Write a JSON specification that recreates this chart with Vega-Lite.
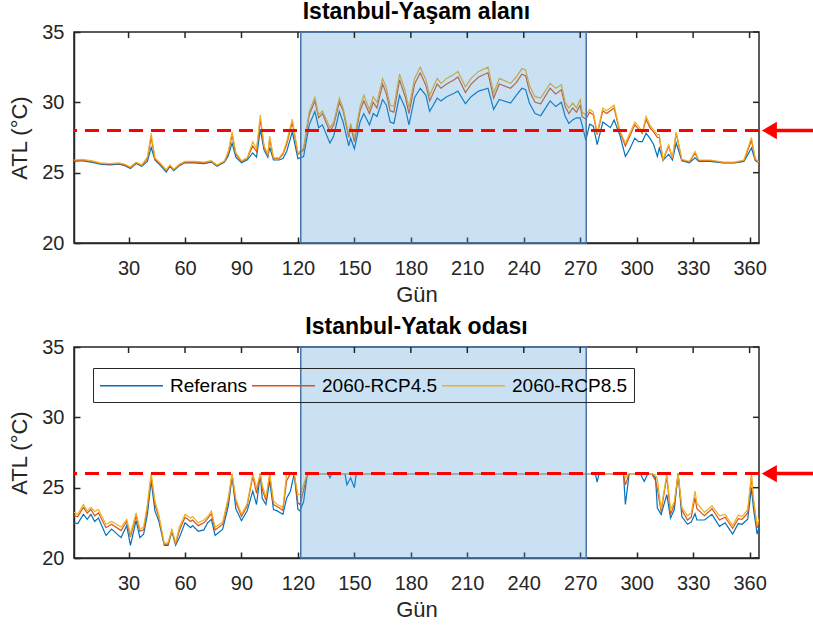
{
  "$schema": "https://vega.github.io/schema/vega-lite/v6.json",
  "padding": {"left": 8, "top": 0, "right": 0, "bottom": 0},
  "bounds": "flush",
  "spacing": 104,
  "background": "white",
  "config": {
    "font": "Liberation Sans",
    "view": {"stroke": "#262626", "strokeWidth": 1.5},
    "axis": {
      "grid": false,
      "domainColor": "#262626",
      "domainWidth": 1.5,
      "tickColor": "#262626",
      "tickWidth": 1.5,
      "tickSize": -6,
      "labelColor": "#262626",
      "labelFontSize": 20,
      "titleColor": "#262626",
      "titleFontSize": 22,
      "titleFontWeight": "normal"
    },
    "title": {"fontSize": 23, "fontWeight": "bold", "color": "#000000", "anchor": "middle"}
  },
  "resolve": {"legend": {"color": "independent"}},
  "datasets": {
    "one": [{"k": 1}],
    "tx": [{"t":30},{"t":60},{"t":90},{"t":120},{"t":150},{"t":180},{"t":210},{"t":240},{"t":270},{"t":300},{"t":330},{"t":360}],
    "ty": [{"t":20},{"t":25},{"t":30},{"t":35}],
    "top": [
      {"d":1,"ref":25.8,"rcp45":25.85,"rcp85":25.9},
      {"d":5,"ref":25.85,"rcp45":25.9,"rcp85":25.95},
      {"d":10,"ref":25.75,"rcp45":25.8,"rcp85":25.85},
      {"d":15,"ref":25.6,"rcp45":25.65,"rcp85":25.7},
      {"d":20,"ref":25.55,"rcp45":25.6,"rcp85":25.65},
      {"d":25,"ref":25.6,"rcp45":25.65,"rcp85":25.7},
      {"d":28,"ref":25.5,"rcp45":25.55,"rcp85":25.6},
      {"d":31,"ref":25.3,"rcp45":25.35,"rcp85":25.4},
      {"d":34,"ref":25.65,"rcp45":25.7,"rcp85":25.75},
      {"d":37,"ref":25.45,"rcp45":25.5,"rcp85":25.55},
      {"d":40,"ref":25.8,"rcp45":26.0,"rcp85":26.1},
      {"d":42,"ref":26.8,"rcp45":27.5,"rcp85":27.8},
      {"d":44,"ref":25.9,"rcp45":26.0,"rcp85":26.05},
      {"d":47,"ref":25.5,"rcp45":25.6,"rcp85":25.65},
      {"d":50,"ref":25.05,"rcp45":25.15,"rcp85":25.2},
      {"d":52,"ref":25.45,"rcp45":25.5,"rcp85":25.55},
      {"d":54,"ref":25.15,"rcp45":25.2,"rcp85":25.25},
      {"d":57,"ref":25.5,"rcp45":25.55,"rcp85":25.6},
      {"d":60,"ref":25.7,"rcp45":25.75,"rcp85":25.8},
      {"d":65,"ref":25.7,"rcp45":25.75,"rcp85":25.8},
      {"d":70,"ref":25.65,"rcp45":25.7,"rcp85":25.75},
      {"d":74,"ref":25.75,"rcp45":25.8,"rcp85":25.85},
      {"d":77,"ref":25.45,"rcp45":25.5,"rcp85":25.55},
      {"d":81,"ref":25.75,"rcp45":25.8,"rcp85":25.85},
      {"d":83,"ref":26.2,"rcp45":26.4,"rcp85":26.5},
      {"d":85,"ref":27.1,"rcp45":27.7,"rcp85":27.9},
      {"d":87,"ref":26.1,"rcp45":26.3,"rcp85":26.4},
      {"d":90,"ref":25.7,"rcp45":25.8,"rcp85":25.85},
      {"d":93,"ref":25.9,"rcp45":26.0,"rcp85":26.05},
      {"d":96,"ref":26.4,"rcp45":26.9,"rcp85":27.2},
      {"d":98,"ref":26.1,"rcp45":26.5,"rcp85":26.7},
      {"d":100,"ref":28.1,"rcp45":28.8,"rcp85":29.1},
      {"d":102,"ref":26.6,"rcp45":26.8,"rcp85":26.9},
      {"d":104,"ref":26.1,"rcp45":26.25,"rcp85":26.3},
      {"d":105,"ref":26.8,"rcp45":27.4,"rcp85":27.6},
      {"d":107,"ref":25.9,"rcp45":26.0,"rcp85":26.05},
      {"d":110,"ref":25.9,"rcp45":26.0,"rcp85":26.05},
      {"d":112,"ref":26.0,"rcp45":26.3,"rcp85":26.4},
      {"d":114,"ref":26.5,"rcp45":27.0,"rcp85":27.2},
      {"d":117,"ref":27.9,"rcp45":28.6,"rcp85":28.8},
      {"d":120,"ref":26.0,"rcp45":26.3,"rcp85":26.4},
      {"d":123,"ref":26.15,"rcp45":26.6,"rcp85":26.75},
      {"d":126,"ref":28.4,"rcp45":29.1,"rcp85":29.35},
      {"d":129,"ref":29.35,"rcp45":30.1,"rcp85":30.35},
      {"d":131,"ref":28.2,"rcp45":28.9,"rcp85":29.1},
      {"d":133,"ref":28.4,"rcp45":29.2,"rcp85":29.4},
      {"d":137,"ref":27.1,"rcp45":27.9,"rcp85":28.2},
      {"d":139,"ref":27.6,"rcp45":28.4,"rcp85":28.6},
      {"d":142,"ref":29.35,"rcp45":30.0,"rcp85":30.3},
      {"d":144,"ref":28.6,"rcp45":29.4,"rcp85":29.6},
      {"d":147,"ref":26.9,"rcp45":27.5,"rcp85":27.7},
      {"d":148,"ref":27.45,"rcp45":28.3,"rcp85":28.5},
      {"d":150,"ref":26.7,"rcp45":27.2,"rcp85":27.45},
      {"d":153,"ref":28.6,"rcp45":29.4,"rcp85":29.7},
      {"d":155,"ref":29.2,"rcp45":30.1,"rcp85":30.5},
      {"d":158,"ref":28.4,"rcp45":29.2,"rcp85":29.5},
      {"d":160,"ref":29.2,"rcp45":30.0,"rcp85":30.4},
      {"d":162,"ref":29.0,"rcp45":29.6,"rcp85":30.0},
      {"d":165,"ref":30.2,"rcp45":31.3,"rcp85":31.7},
      {"d":167,"ref":29.8,"rcp45":30.6,"rcp85":31.0},
      {"d":169,"ref":28.6,"rcp45":29.4,"rcp85":29.8},
      {"d":171,"ref":28.5,"rcp45":29.3,"rcp85":29.7},
      {"d":174,"ref":30.5,"rcp45":31.6,"rcp85":32.0},
      {"d":177,"ref":29.6,"rcp45":30.4,"rcp85":30.8},
      {"d":179,"ref":28.4,"rcp45":29.2,"rcp85":29.6},
      {"d":182,"ref":30.35,"rcp45":31.3,"rcp85":31.7},
      {"d":185,"ref":31.0,"rcp45":32.1,"rcp85":32.5},
      {"d":188,"ref":30.5,"rcp45":31.2,"rcp85":31.6},
      {"d":190,"ref":29.35,"rcp45":30.1,"rcp85":30.5},
      {"d":194,"ref":30.3,"rcp45":31.3,"rcp85":31.7},
      {"d":196,"ref":30.1,"rcp45":31.0,"rcp85":31.35},
      {"d":199,"ref":30.4,"rcp45":31.3,"rcp85":31.7},
      {"d":203,"ref":30.65,"rcp45":31.6,"rcp85":32.0},
      {"d":205,"ref":30.8,"rcp45":31.8,"rcp85":32.2},
      {"d":209,"ref":29.9,"rcp45":30.7,"rcp85":31.1},
      {"d":212,"ref":30.4,"rcp45":31.3,"rcp85":31.7},
      {"d":216,"ref":30.8,"rcp45":31.8,"rcp85":32.2},
      {"d":221,"ref":31.0,"rcp45":32.1,"rcp85":32.5},
      {"d":224,"ref":29.5,"rcp45":30.3,"rcp85":30.65},
      {"d":227,"ref":30.2,"rcp45":31.3,"rcp85":31.7},
      {"d":233,"ref":29.95,"rcp45":31.0,"rcp85":31.35},
      {"d":236,"ref":30.5,"rcp45":31.4,"rcp85":31.8},
      {"d":239,"ref":31.0,"rcp45":32.0,"rcp85":32.4},
      {"d":241,"ref":30.9,"rcp45":31.9,"rcp85":32.3},
      {"d":243,"ref":29.95,"rcp45":30.8,"rcp85":31.2},
      {"d":246,"ref":29.2,"rcp45":30.0,"rcp85":30.4},
      {"d":249,"ref":29.05,"rcp45":29.9,"rcp85":30.3},
      {"d":254,"ref":30.1,"rcp45":31.0,"rcp85":31.35},
      {"d":257,"ref":29.7,"rcp45":30.6,"rcp85":31.0},
      {"d":260,"ref":30.0,"rcp45":30.9,"rcp85":31.25},
      {"d":262,"ref":29.0,"rcp45":29.7,"rcp85":30.0},
      {"d":264,"ref":28.5,"rcp45":29.2,"rcp85":29.6},
      {"d":266,"ref":28.75,"rcp45":29.6,"rcp85":29.95},
      {"d":268,"ref":28.9,"rcp45":29.3,"rcp85":29.6},
      {"d":270,"ref":28.9,"rcp45":29.8,"rcp85":30.2},
      {"d":271,"ref":28.4,"rcp45":29.0,"rcp85":29.3},
      {"d":273,"ref":27.3,"rcp45":28.8,"rcp85":29.1},
      {"d":275,"ref":28.45,"rcp45":29.3,"rcp85":29.5},
      {"d":277,"ref":28.3,"rcp45":29.1,"rcp85":29.3},
      {"d":279,"ref":27.0,"rcp45":27.7,"rcp85":27.8},
      {"d":282,"ref":28.6,"rcp45":29.4,"rcp85":29.6},
      {"d":284,"ref":28.4,"rcp45":29.2,"rcp85":29.4},
      {"d":286,"ref":28.2,"rcp45":29.4,"rcp85":29.6},
      {"d":288,"ref":28.75,"rcp45":29.6,"rcp85":29.8},
      {"d":291,"ref":27.7,"rcp45":27.9,"rcp85":28.0},
      {"d":294,"ref":26.15,"rcp45":26.9,"rcp85":27.1},
      {"d":296,"ref":26.6,"rcp45":27.5,"rcp85":27.7},
      {"d":299,"ref":27.45,"rcp45":28.4,"rcp85":28.6},
      {"d":301,"ref":27.2,"rcp45":28.1,"rcp85":28.3},
      {"d":303,"ref":27.2,"rcp45":27.8,"rcp85":27.9},
      {"d":305,"ref":27.8,"rcp45":28.8,"rcp85":29.0},
      {"d":307,"ref":27.45,"rcp45":28.2,"rcp85":28.4},
      {"d":309,"ref":27.0,"rcp45":27.9,"rcp85":28.05},
      {"d":311,"ref":26.15,"rcp45":27.5,"rcp85":27.7},
      {"d":312,"ref":26.75,"rcp45":27.5,"rcp85":27.7},
      {"d":314,"ref":25.9,"rcp45":25.9,"rcp85":25.95},
      {"d":317,"ref":26.3,"rcp45":26.9,"rcp85":27.0},
      {"d":319,"ref":25.9,"rcp45":26.0,"rcp85":26.05},
      {"d":321,"ref":27.1,"rcp45":27.8,"rcp85":27.9},
      {"d":324,"ref":25.85,"rcp45":25.9,"rcp85":25.95},
      {"d":328,"ref":25.7,"rcp45":25.75,"rcp85":25.8},
      {"d":331,"ref":26.05,"rcp45":26.4,"rcp85":26.5},
      {"d":333,"ref":25.8,"rcp45":25.85,"rcp85":25.9},
      {"d":339,"ref":25.8,"rcp45":25.85,"rcp85":25.9},
      {"d":346,"ref":25.7,"rcp45":25.72,"rcp85":25.75},
      {"d":352,"ref":25.7,"rcp45":25.72,"rcp85":25.75},
      {"d":357,"ref":25.8,"rcp45":25.85,"rcp85":25.9},
      {"d":361,"ref":26.75,"rcp45":27.3,"rcp85":27.5},
      {"d":363,"ref":25.85,"rcp45":25.95,"rcp85":26.0},
      {"d":365,"ref":25.7,"rcp45":25.72,"rcp85":25.75}
    ],
    "bot": [
      {"d":1,"ref":22.5,"rcp45":23.0,"rcp85":23.25},
      {"d":3,"ref":22.45,"rcp45":22.95,"rcp85":23.1},
      {"d":6,"ref":23.1,"rcp45":23.6,"rcp85":23.8},
      {"d":8,"ref":22.75,"rcp45":23.2,"rcp85":23.35},
      {"d":10,"ref":23.1,"rcp45":23.45,"rcp85":23.6},
      {"d":12,"ref":22.6,"rcp45":23.0,"rcp85":23.3},
      {"d":14,"ref":22.85,"rcp45":23.2,"rcp85":23.45},
      {"d":18,"ref":21.6,"rcp45":22.15,"rcp85":22.4},
      {"d":21,"ref":22.05,"rcp45":22.4,"rcp85":22.6},
      {"d":26,"ref":21.45,"rcp45":21.95,"rcp85":22.2},
      {"d":29,"ref":22.3,"rcp45":22.6,"rcp85":22.75},
      {"d":31,"ref":20.9,"rcp45":21.5,"rcp85":21.7},
      {"d":34,"ref":22.65,"rcp45":23.0,"rcp85":23.2},
      {"d":36,"ref":21.45,"rcp45":21.9,"rcp85":22.05},
      {"d":38,"ref":21.7,"rcp45":22.0,"rcp85":22.2},
      {"d":40,"ref":23.1,"rcp45":23.6,"rcp85":23.8},
      {"d":42,"ref":25.5,"rcp45":25.85,"rcp85":26.0},
      {"d":44,"ref":23.35,"rcp45":23.8,"rcp85":24.05},
      {"d":46,"ref":22.65,"rcp45":22.95,"rcp85":23.1},
      {"d":49,"ref":20.9,"rcp45":20.95,"rcp85":21.0},
      {"d":51,"ref":20.9,"rcp45":21.0,"rcp85":21.1},
      {"d":53,"ref":21.9,"rcp45":21.95,"rcp85":22.0},
      {"d":55,"ref":20.9,"rcp45":21.0,"rcp85":21.1},
      {"d":57,"ref":21.45,"rcp45":21.95,"rcp85":22.2},
      {"d":60,"ref":22.5,"rcp45":22.9,"rcp85":23.1},
      {"d":63,"ref":22.15,"rcp45":22.6,"rcp85":22.85},
      {"d":64,"ref":22.3,"rcp45":22.7,"rcp85":22.95},
      {"d":67,"ref":21.9,"rcp45":22.3,"rcp85":22.5},
      {"d":70,"ref":22.0,"rcp45":22.5,"rcp85":22.7},
      {"d":72,"ref":22.5,"rcp45":22.8,"rcp85":22.95},
      {"d":74,"ref":22.75,"rcp45":23.15,"rcp85":23.35},
      {"d":76,"ref":21.6,"rcp45":22.0,"rcp85":22.2},
      {"d":80,"ref":22.05,"rcp45":22.4,"rcp85":22.55},
      {"d":83,"ref":23.7,"rcp45":24.1,"rcp85":24.3},
      {"d":85,"ref":25.8,"rcp45":25.95,"rcp85":26.0},
      {"d":87,"ref":23.5,"rcp45":24.0,"rcp85":24.2},
      {"d":90,"ref":22.65,"rcp45":22.95,"rcp85":23.1},
      {"d":93,"ref":23.35,"rcp45":23.7,"rcp85":23.85},
      {"d":96,"ref":24.75,"rcp45":25.8,"rcp85":26.0},
      {"d":98,"ref":23.8,"rcp45":24.6,"rcp85":25.0},
      {"d":100,"ref":26.0,"rcp45":26.0,"rcp85":26.0},
      {"d":101,"ref":24.25,"rcp45":24.9,"rcp85":25.2},
      {"d":103,"ref":23.8,"rcp45":24.1,"rcp85":24.3},
      {"d":105,"ref":25.5,"rcp45":25.9,"rcp85":26.0},
      {"d":107,"ref":23.45,"rcp45":23.8,"rcp85":24.05},
      {"d":109,"ref":23.35,"rcp45":23.65,"rcp85":23.8},
      {"d":112,"ref":23.1,"rcp45":23.4,"rcp85":23.6},
      {"d":114,"ref":24.25,"rcp45":25.5,"rcp85":26.0},
      {"d":116,"ref":24.75,"rcp45":26.0,"rcp85":26.0},
      {"d":118,"ref":26.0,"rcp45":26.0,"rcp85":26.0},
      {"d":120,"ref":23.45,"rcp45":23.9,"rcp85":24.5},
      {"d":121,"ref":23.35,"rcp45":23.8,"rcp85":24.5},
      {"d":123,"ref":24.0,"rcp45":24.8,"rcp85":25.2},
      {"d":125,"ref":26.0,"rcp45":26.0,"rcp85":26.0},
      {"d":136,"ref":26.0,"rcp45":26.0,"rcp85":26.0},
      {"d":137,"ref":25.7,"rcp45":26.0,"rcp85":26.0},
      {"d":138,"ref":26.0,"rcp45":26.0,"rcp85":26.0},
      {"d":145,"ref":26.0,"rcp45":26.0,"rcp85":26.0},
      {"d":146,"ref":25.2,"rcp45":26.0,"rcp85":26.0},
      {"d":148,"ref":25.7,"rcp45":26.0,"rcp85":26.0},
      {"d":150,"ref":25.0,"rcp45":26.0,"rcp85":26.0},
      {"d":151,"ref":26.0,"rcp45":26.0,"rcp85":26.0},
      {"d":278,"ref":26.0,"rcp45":26.0,"rcp85":26.0},
      {"d":279,"ref":25.4,"rcp45":26.0,"rcp85":26.0},
      {"d":280,"ref":26.0,"rcp45":26.0,"rcp85":26.0},
      {"d":293,"ref":26.0,"rcp45":26.0,"rcp85":26.0},
      {"d":294,"ref":23.8,"rcp45":25.2,"rcp85":25.7},
      {"d":296,"ref":26.0,"rcp45":26.0,"rcp85":26.0},
      {"d":302,"ref":26.0,"rcp45":26.0,"rcp85":26.0},
      {"d":303,"ref":25.7,"rcp45":26.0,"rcp85":26.0},
      {"d":304,"ref":25.45,"rcp45":26.0,"rcp85":26.0},
      {"d":306,"ref":26.0,"rcp45":26.0,"rcp85":26.0},
      {"d":308,"ref":26.0,"rcp45":26.0,"rcp85":26.0},
      {"d":310,"ref":25.7,"rcp45":25.5,"rcp85":25.9},
      {"d":311,"ref":23.55,"rcp45":24.9,"rcp85":25.6},
      {"d":313,"ref":23.1,"rcp45":23.3,"rcp85":23.45},
      {"d":316,"ref":24.5,"rcp45":25.8,"rcp85":26.0},
      {"d":318,"ref":22.85,"rcp45":23.1,"rcp85":23.45},
      {"d":320,"ref":23.45,"rcp45":23.8,"rcp85":24.0},
      {"d":322,"ref":26.0,"rcp45":26.0,"rcp85":26.0},
      {"d":324,"ref":22.95,"rcp45":23.4,"rcp85":23.6},
      {"d":327,"ref":22.4,"rcp45":22.7,"rcp85":23.0},
      {"d":329,"ref":22.55,"rcp45":22.9,"rcp85":23.2},
      {"d":331,"ref":23.15,"rcp45":24.3,"rcp85":24.75},
      {"d":332,"ref":22.7,"rcp45":23.5,"rcp85":23.9},
      {"d":336,"ref":22.7,"rcp45":23.0,"rcp85":23.25},
      {"d":340,"ref":23.1,"rcp45":23.5,"rcp85":23.7},
      {"d":344,"ref":22.25,"rcp45":22.7,"rcp85":23.0},
      {"d":347,"ref":22.5,"rcp45":22.9,"rcp85":23.1},
      {"d":351,"ref":21.7,"rcp45":22.1,"rcp85":22.3},
      {"d":354,"ref":22.45,"rcp45":22.8,"rcp85":23.05},
      {"d":356,"ref":22.4,"rcp45":22.75,"rcp85":22.95},
      {"d":359,"ref":22.75,"rcp45":23.2,"rcp85":23.45},
      {"d":361,"ref":25.0,"rcp45":25.8,"rcp85":26.0},
      {"d":362,"ref":23.6,"rcp45":24.1,"rcp85":24.3},
      {"d":364,"ref":21.7,"rcp45":22.15,"rcp85":22.3},
      {"d":365,"ref":22.2,"rcp45":22.6,"rcp85":22.8}
    ]
  },
  "vconcat": [
    {
      "width": 685,
      "height": 211,
      "title": {"text": "Istanbul-Yaşam alanı", "offset": -2},
      "layer": [
        {
          "data": {"name": "top"},
          "transform": [{"fold": ["ref", "rcp45", "rcp85"], "as": ["s", "v"]}],
          "mark": {"type": "line", "strokeWidth": 1.2, "clip": true},
          "encoding": {
            "x": {"field": "d", "type": "quantitative", "scale": {"domain": [1, 365], "nice": false, "zero": false},
                  "axis": {"orient": "bottom", "values": [30,60,90,120,150,180,210,240,270,300,330,360], "title": "Gün", "labelPadding": 21, "titlePadding": 6}},
            "y": {"field": "v", "type": "quantitative", "scale": {"domain": [20, 35], "nice": false, "zero": false},
                  "axis": {"orient": "left", "values": [20,25,30,35], "title": "ATL (°C)", "labelPadding": 16, "titlePadding": 10}},
            "color": {"field": "s", "type": "nominal",
                      "scale": {"domain": ["ref", "rcp45", "rcp85"], "range": ["#0072BD", "#D95319", "#EDB120"]},
                      "legend": null}
          }
        },
        {
          "data": {"name": "one"},
          "mark": {"type": "rect", "fill": "#4d9ad6", "fillOpacity": 0.3, "stroke": "#4a76a8", "strokeWidth": 1.5},
          "encoding": {
            "x": {"datum": 121.5, "type": "quantitative"},
            "x2": {"datum": 273.2},
            "y": {"datum": 20, "type": "quantitative"},
            "y2": {"datum": 35}
          }
        },
        {
          "data": {"name": "tx"},
          "mark": {"type": "rule", "strokeWidth": 1.5, "color": "#262626"},
          "encoding": {"x": {"field": "t", "type": "quantitative"}, "y": {"datum": 35, "type": "quantitative"}, "y2": {"datum": 34.57}}
        },
        {
          "data": {"name": "ty"},
          "mark": {"type": "rule", "strokeWidth": 1.5, "color": "#262626"},
          "encoding": {"y": {"field": "t", "type": "quantitative"}, "x": {"datum": 365, "type": "quantitative"}, "x2": {"datum": 361.8}}
        },
        {
          "data": {"name": "one"},
          "mark": {"type": "rule", "color": "#FF0000", "strokeWidth": 3, "strokeDash": [14, 8]},
          "encoding": {"y": {"datum": 28, "type": "quantitative"}}
        },
        {
          "data": {"name": "one"},
          "mark": {"type": "rule", "color": "#FF0000", "strokeWidth": 3.5, "clip": false},
          "encoding": {"x": {"datum": 372, "type": "quantitative"}, "x2": {"datum": 396}, "y": {"datum": 28, "type": "quantitative"}}
        },
        {
          "data": {"name": "one"},
          "mark": {"type": "point", "shape": "triangle-left", "filled": true, "color": "#FF0000", "size": 300, "opacity": 1, "clip": false},
          "encoding": {"x": {"datum": 370.5, "type": "quantitative"}, "y": {"datum": 28, "type": "quantitative"}}
        }
      ]
    },
    {
      "width": 685,
      "height": 211,
      "title": {"text": "Istanbul-Yatak odası", "offset": -2},
      "layer": [
        {
          "data": {"name": "bot"},
          "transform": [{"fold": ["ref", "rcp45", "rcp85"], "as": ["s", "v"]}],
          "mark": {"type": "line", "strokeWidth": 1.2, "clip": true},
          "encoding": {
            "x": {"field": "d", "type": "quantitative", "scale": {"domain": [1, 365], "nice": false, "zero": false},
                  "axis": {"orient": "bottom", "values": [30,60,90,120,150,180,210,240,270,300,330,360], "title": "Gün", "labelPadding": 21, "titlePadding": 6}},
            "y": {"field": "v", "type": "quantitative", "scale": {"domain": [20, 35], "nice": false, "zero": false},
                  "axis": {"orient": "left", "values": [20,25,30,35], "title": "ATL (°C)", "labelPadding": 16, "titlePadding": 10}},
            "color": {"field": "s", "type": "nominal",
                      "scale": {"domain": ["ref", "rcp45", "rcp85"], "range": ["#0072BD", "#D95319", "#EDB120"]},
                      "legend": {"orient": "none", "legendX": 19, "legendY": 21, "direction": "horizontal", "columns": 3,
                                 "title": null, "symbolType": "M-1,0H5", "symbolSize": 441, "symbolStrokeWidth": 1.5,
                                 "labelFontSize": 19, "labelColor": "#000000", "labelOffset": 48, "columnPadding": 1,
                                 "strokeColor": "#262626", "padding": 6,
                                 "labelExpr": "datum.label == 'ref' ? 'Referans' : datum.label == 'rcp45' ? '2060-RCP4.5' : '2060-RCP8.5'"}}
          }
        },
        {
          "data": {"name": "one"},
          "mark": {"type": "rect", "fill": "#4d9ad6", "fillOpacity": 0.3, "stroke": "#4a76a8", "strokeWidth": 1.5},
          "encoding": {
            "x": {"datum": 121.5, "type": "quantitative"},
            "x2": {"datum": 273.2},
            "y": {"datum": 20, "type": "quantitative"},
            "y2": {"datum": 35}
          }
        },
        {
          "data": {"name": "tx"},
          "mark": {"type": "rule", "strokeWidth": 1.5, "color": "#262626"},
          "encoding": {"x": {"field": "t", "type": "quantitative"}, "y": {"datum": 35, "type": "quantitative"}, "y2": {"datum": 34.57}}
        },
        {
          "data": {"name": "ty"},
          "mark": {"type": "rule", "strokeWidth": 1.5, "color": "#262626"},
          "encoding": {"y": {"field": "t", "type": "quantitative"}, "x": {"datum": 365, "type": "quantitative"}, "x2": {"datum": 361.8}}
        },
        {
          "data": {"name": "one"},
          "mark": {"type": "rule", "color": "#FF0000", "strokeWidth": 3, "strokeDash": [14, 8]},
          "encoding": {"y": {"datum": 26, "type": "quantitative"}}
        },
        {
          "data": {"name": "one"},
          "mark": {"type": "rule", "color": "#FF0000", "strokeWidth": 3.5, "clip": false},
          "encoding": {"x": {"datum": 372, "type": "quantitative"}, "x2": {"datum": 396}, "y": {"datum": 26, "type": "quantitative"}}
        },
        {
          "data": {"name": "one"},
          "mark": {"type": "point", "shape": "triangle-left", "filled": true, "color": "#FF0000", "size": 300, "opacity": 1, "clip": false},
          "encoding": {"x": {"datum": 370.5, "type": "quantitative"}, "y": {"datum": 26, "type": "quantitative"}}
        }
      ]
    }
  ]
}
